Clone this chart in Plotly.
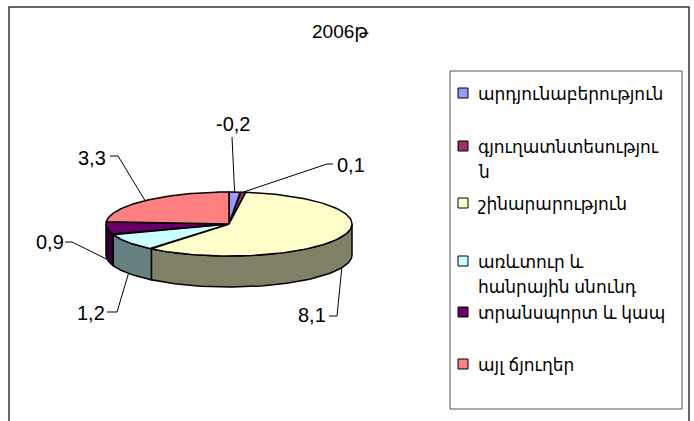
import numpy as np
import plotly.graph_objects as go

# ---------------- data ----------------
title_text = "2006թ"
categories = [
    "արդյունաբերություն",
    "գյուղատնտեսություն",
    "շինարարություն",
    "առևտուր և հանրային սնունդ",
    "տրանսպորտ և կապ",
    "այլ ճյուղեր",
]
values = [-0.2, 0.1, 8.1, 1.2, 0.9, 3.3]
# legend text lines as wrapped in the original
legend_lines = [
    ["արդյունաբերություն"],
    ["գյուղատնտեսությու", "ն"],
    ["շինարարություն"],
    ["առևտուր և", "հանրային սնունդ"],
    ["տրանսպորտ և կապ"],
    ["այլ ճյուղեր"],
]

# ---------------- styles ----------------
top_colors = ["#9999FF", "#993366", "#FFFFCC", "#CCFFFF", "#660066", "#FF8080"]
side_colors = ["#4D4D80", "#4D1A33", "#808066", "#668080", "#330033", "#804040"]
FONT = "Arial, Liberation Sans, DejaVu Sans, sans-serif"
W, H = 694, 421

# pie geometry (pixel space)
CX, CY, RX, RY, DEPTH = 229, 224, 123, 32, 31

# label layout (pixel space)
label_pos = [(233, 124), (351, 165), (312, 315), (91, 313), (50, 242), (92, 158)]
label_elbow = [(232, 137), (327, 164), (337, 316), (117, 312), (72, 242), (118, 156)]
label_end = [(232, 137), (333, 164), (329, 316), (107, 312), (65, 242), (110, 156)]

legend_y = [93, 146, 203, 261, 312, 364]
LEGEND_LINE = 25


def ell(theta_deg, dy=0.0):
    t = np.radians(theta_deg)
    return CX + RX * np.sin(t), CY - RY * np.cos(t) + dy


mags = np.abs(np.array(values, dtype=float))
bounds = np.concatenate([[0.0], np.cumsum(mags / mags.sum())]) * 360.0

fig = go.Figure()

# side walls (front half only)
for i in range(len(values)):
    s, e = max(bounds[i], 90.0), min(bounds[i + 1], 270.0)
    if s >= e:
        continue
    th = np.linspace(s, e, 80)
    xt, yt = ell(th)
    xb, yb = ell(th[::-1], DEPTH)
    xs = np.concatenate([xt, xb, xt[:1]])
    ys = np.concatenate([yt, yb, yt[:1]])
    fig.add_trace(go.Scatter(x=xs, y=ys, mode="lines", fill="toself",
                             fillcolor=side_colors[i],
                             line=dict(color="black", width=1.5),
                             hoverinfo="skip", showlegend=False))

# top faces
for i in range(len(values)):
    th = np.linspace(bounds[i], bounds[i + 1], 120)
    xa, ya = ell(th)
    xs = np.concatenate([[CX], xa, [CX]])
    ys = np.concatenate([[CY], ya, [CY]])
    fig.add_trace(go.Scatter(x=xs, y=ys, mode="lines", fill="toself",
                             fillcolor=top_colors[i],
                             line=dict(color="black", width=1.5),
                             name=categories[i], hoverinfo="name",
                             showlegend=False))

annotations = []
shapes = []

# leader lines and value labels
for i, v in enumerate(values):
    m = (bounds[i] + bounds[i + 1]) / 2.0
    ax, ay = ell(m, DEPTH if 90.0 < m < 270.0 else 0.0)
    ex, ey = label_elbow[i]
    tx, ty = label_end[i]
    fig.add_trace(go.Scatter(x=[ax, ex, tx], y=[ay, ey, ty], mode="lines",
                             line=dict(color="black", width=1),
                             hoverinfo="skip", showlegend=False))
    lx, ly = label_pos[i]
    annotations.append(dict(x=lx, y=ly, xref="x", yref="y",
                            text=f"{v:.1f}".replace(".", ","),
                            showarrow=False, xanchor="center", yanchor="middle",
                            font=dict(family=FONT, size=20, color="black")))

# title
annotations.append(dict(x=340, y=31, xref="x", yref="y", text=title_text,
                        showarrow=False, xanchor="center", yanchor="middle",
                        font=dict(family=FONT, size=19, color="black")))

# chart border
shapes.append(dict(type="rect", xref="x", yref="y", x0=9, y0=7, x1=689, y1=440,
                   line=dict(color="#333333", width=1.5), fillcolor="rgba(0,0,0,0)"))
# legend box
shapes.append(dict(type="rect", xref="x", yref="y", x0=450, y0=71, x1=682, y1=409,
                   line=dict(color="#555555", width=1), fillcolor="white"))

for i, lines in enumerate(legend_lines):
    y = legend_y[i]
    shapes.append(dict(type="rect", xref="x", yref="y", x0=458, y0=y - 5, x1=468, y1=y + 5,
                       line=dict(color="black", width=1), fillcolor=top_colors[i]))
    for k, txt in enumerate(lines):
        annotations.append(dict(x=476, y=y + 1 + k * LEGEND_LINE, xref="x", yref="y", text=txt,
                                showarrow=False, xanchor="left", yanchor="middle", align="left",
                                font=dict(family=FONT, size=17, color="black")))

fig.update_layout(
    width=W, height=H,
    margin=dict(l=0, r=0, t=0, b=0),
    paper_bgcolor="white", plot_bgcolor="white",
    xaxis=dict(range=[0, W], visible=False, fixedrange=True),
    yaxis=dict(range=[H, 0], visible=False, fixedrange=True),
    shapes=shapes, annotations=annotations,
    showlegend=False,
)

fig.write_html("out.html",
               config={"displayModeBar": False},
               post_script="document.body.style.margin='0';document.body.style.overflow='hidden';")
